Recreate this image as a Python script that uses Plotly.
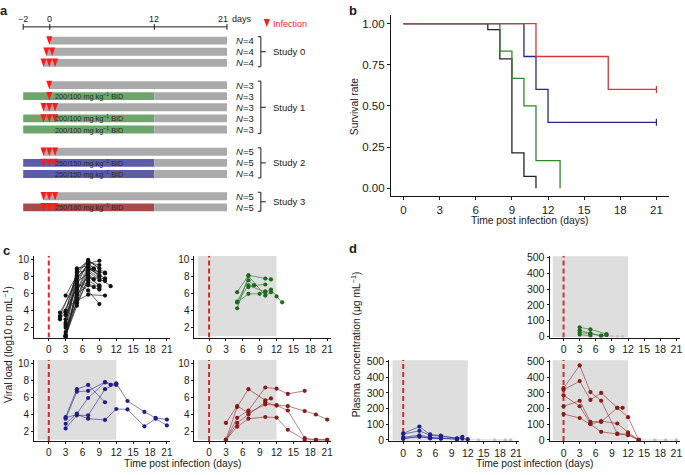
import numpy as np
import plotly.graph_objects as go

W, H = 685, 475
FONT = "Liberation Sans, Arial, Helvetica, sans-serif"
INK = "#1a1a1a"

# ---------------- panel a : study design ----------------
a_tick_days = [-2, 0, 12, 21]
a_tick_text = ["\u22122", "0", "12", "21"]
a_study = [0, 0, 0, 1, 1, 1, 1, 1, 2, 2, 2, 3, 3]
a_n = [4, 4, 4, 3, 3, 3, 3, 3, 5, 5, 4, 5, 5]
a_infections = [1, 2, 3, 1, 1, 3, 3, 0, 3, 3, 0, 3, 3]
a_treated = [0, 0, 0, 0, 1, 0, 1, 1, 0, 1, 1, 0, 1]
a_dose = ["", "200/100", "250/150", "250/180"]
a_treat_days = (-2, 12)
a_last_day = 21

# ---------------- panel b : survival ----------------
b_days_ctrl = [0, 7, 8, 9, 10, 11]
b_surv_ctrl = [1.00, 0.964, 0.786, 0.214, 0.071, 0.00]
b_days_low = [0, 8, 9, 10, 11, 13]
b_surv_low = [1.00, 0.833, 0.667, 0.50, 0.167, 0.00]
b_days_mid = [0, 10, 11, 12, 21]
b_surv_mid = [1.00, 0.80, 0.60, 0.40, 0.40]
b_days_high = [0, 11, 17, 21]
b_surv_high = [1.00, 0.80, 0.60, 0.60]

# ---------------- panel c : viral load (log10 cp/mL) ----------------
c_ctrl = [
    ([2, 5, 7, 9], [3.8, 7.5, 9.6, 9.9]),
    ([2, 5, 7, 9], [3.2, 6.5, 9.2, 8.6]),
    ([2, 5, 7, 10], [3.0, 5.5, 8.9, 8.4]),
    ([3, 5, 7, 9], [5.8, 8.2, 10.0, 9.0]),
    ([3, 5, 7, 8], [3.0, 7.0, 9.8, 8.9]),
    ([3, 5, 7, 9], [1.0, 6.2, 9.0, 8.2]),
    ([3, 5, 7, 9, 10], [2.0, 5.0, 8.6, 7.6, 7.5]),
    ([3, 5, 7, 10], [1.0, 4.6, 7.9, 7.8]),
    ([3, 5, 7, 8], [2.6, 7.8, 9.5, 9.0]),
    ([3, 5, 7, 10], [1.0, 8.8, 9.9, 8.5]),
    ([3, 5, 7, 9], [2.4, 9.0, 9.3, 8.0]),
    ([3, 5, 7, 9], [1.5, 5.8, 8.2, 6.9]),
    ([3, 5, 7, 8], [1.0, 6.8, 7.3, 6.8]),
    ([3, 5, 7, 9], [3.5, 7.2, 6.4, 4.8]),
    ([3, 5, 7, 10], [1.0, 5.2, 5.9, 5.8]),
    ([3, 5, 7, 11], [4.0, 8.5, 8.8, 6.9]),
    ([3, 5, 7, 9], [1.0, 6.0, 7.0, 6.5]),
    ([2, 5, 7, 10], [3.4, 8.0, 9.1, 7.8]),
    ([3, 5, 7, 8], [2.2, 7.4, 8.4, 7.7]),
    ([3, 5, 7, 9], [1.0, 6.6, 8.0, 7.0]),
    ([3, 5, 7, 9], [3.8, 8.6, 9.7, 9.4]),
    ([3, 5, 7, 9], [1.2, 4.9, 7.6, 6.7]),
]
c_low = [
    ([5, 7, 10, 11], [6.2, 8.2, 7.8, 7.7]),
    ([5, 7, 8, 10], [5.1, 7.6, 7.0, 7.1]),
    ([5, 7, 10, 11, 12, 13], [5.0, 7.0, 6.2, 6.5, 5.7, 5.0]),
    ([5, 7, 10, 11], [4.3, 8.1, 5.8, 6.2]),
    ([5, 7, 9, 10], [5.0, 6.0, 6.0, 6.3]),
    ([7, 8], [6.8, 7.0]),
]
c_mid = [
    ([3, 5, 7, 10], [3.7, 7.0, 7.5, 5.45]),
    ([3, 5, 7, 10, 12], [3.5, 6.7, 6.8, 7.85, 7.5]),
    ([3, 5, 7, 10, 11, 12, 14, 17, 19, 21], [2.9, 4.1, 5.95, 7.8, 7.5, 7.7, 5.6, 4.3, 3.6, 3.4]),
    ([3, 5, 7, 10, 12], [2.35, 3.9, 3.9, 7.0, 7.6]),
    ([3, 5, 7, 10, 12, 14, 17, 19, 21], [3.6, 4.0, 3.5, 3.35, 4.65, 4.6, 2.6, 3.5, 2.7]),
]
c_high = [
    ([3, 5, 7, 10, 12, 14, 17, 19, 21], [3.0, 5.0, 4.2, 5.2, 5.1, 5.0, 4.4, 4.0, 3.4]),
    ([3, 5, 7, 10, 11], [1.0, 4.9, 7.0, 5.67, 5.9]),
    ([3, 5, 7, 10, 12, 14, 17], [1.0, 3.6, 4.47, 7.2, 7.06, 6.44, 6.8]),
    ([3, 5, 7, 10, 12, 14, 17, 19, 21], [1.0, 3.0, 4.0, 5.44, 5.06, 4.47, 1.2, 1.0, 1.0]),
    ([3, 5, 7, 10, 12, 14, 17, 19, 21], [1.0, 2.55, 3.5, 3.7, 3.63, 2.19, 1.0, 1.0, 1.0]),
]

# ---------------- panel d : plasma concentration (ug/mL) ----------------
d_low = [
    ([3, 5, 8], [58, 45, 15]),
    ([3, 5, 7, 8], [40, 20, 5, 8]),
    ([3, 5, 7], [25, 18, 3]),
    ([3, 5], [12, 5]),
]
d_low_loq = ([9, 10, 11], [0, 0, 0])
d_mid = [
    ([0, 3, 5, 7, 10, 11], [42, 85, 35, 28, 10, 20]),
    ([0, 3, 5, 7, 10, 11, 12], [38, 58, 30, 22, 8, 8, 5]),
    ([0, 3, 5, 7, 10], [17, 30, 17, 10, 6]),
    ([0, 3, 5, 7], [8, 23, 10, 8]),
    ([0, 3, 5, 7, 10], [10, 20, 12, 12, 5]),
]
d_mid_loq = ([12, 14, 17, 19, 20], [3, 0, 0, 0, 0])
d_high = [
    ([0, 3, 5, 7, 10, 12, 14], [330, 475, 305, 250, 40, 30, 0]),
    ([0, 3, 5, 7, 10, 12, 14], [320, 375, 255, 300, 205, 145, 0]),
    ([0, 3, 5, 7, 10, 11], [285, 215, 105, 115, 205, 205]),
    ([0, 3, 5, 7, 10, 12, 14], [215, 250, 115, 120, 105, 48, 0]),
    ([0, 3, 5, 7, 10, 12, 14], [165, 140, 100, 52, 38, 38, 0]),
]
d_high_loq = ([14, 17, 19, 21], [0, 0, 0, 0])

# ---------------- styling ----------------
COL_CTRL, COL_LOW, COL_MID, COL_HIGH = "#222222", "#2a8a2a", "#26268f", "#d93535"
C_DOT = {"ctrl": "#111111", "low": "#1d6b1d", "mid": "#1f1f88", "high": "#8a1a1a"}
C_LINE = {"ctrl": "rgba(30,30,30,0.85)", "low": "rgba(40,120,40,0.8)",
          "mid": "rgba(40,40,150,0.75)", "high": "rgba(150,40,40,0.75)"}
A_TREAT_COL = ["", "#6da66d", "#5c5ca8", "#a84a4a"]
A_GRAY = "#aaaaaa"
A_TICK_POS = [23.3, 50, 155, 228]   # schematic (non-linear) positions of the day ticks


def pdx(x0, x1):
    return [x0 / W, x1 / W]


def pdy(top, bottom):
    return [1 - bottom / H, 1 - top / H]


def sx(day):
    return float(np.interp(day, a_tick_days, A_TICK_POS))


def row_y(slot):
    return 37.3 + slot * 11.33


shapes, annotations, traces = [], [], []


def ann(text, x, y, size, xref="paper", yref="paper", xanchor="center", color=INK,
        angle=0, bold=False):
    if xref == "paper":
        x = x / W
    if yref == "paper":
        y = 1 - y / H
    if bold:
        text = "<b>" + text + "</b>"
    annotations.append(dict(text=text, x=x, y=y, xref=xref, yref=yref, xanchor=xanchor,
                            yanchor="middle", showarrow=False, textangle=angle,
                            font=dict(family=FONT, size=size, color=color)))


# ---- panel a drawing ----
def a_rect(x0, x1, y, col):
    shapes.append(dict(type="rect", xref="x", yref="y", x0=x0, x1=x1, y0=y - 4, y1=y + 4,
                       fillcolor=col, line=dict(width=0), layer="below"))


def a_tri(cx, cy):
    shapes.append(dict(type="path", xref="x", yref="y",
                       path=f"M {cx-3},{cy-4.3} L {cx+3},{cy-4.3} L {cx},{cy+4.3} Z",
                       fillcolor="#ff1a1a", line=dict(width=0)))


# timeline
shapes.append(dict(type="line", xref="x", yref="y", x0=sx(-2), x1=sx(a_last_day),
                   y0=23.3, y1=23.3, line=dict(color=INK, width=1)))
for d, t in zip(a_tick_days, a_tick_text):
    shapes.append(dict(type="line", xref="x", yref="y", x0=sx(d), x1=sx(d), y0=20.3, y1=26.3,
                       line=dict(color=INK, width=1)))
    ann(t, sx(d) - (4 if d == 21 else 0), 15, 9, xref="x", yref="y")
ann("days", sx(a_last_day) + 3, 15, 9, xref="x", yref="y", xanchor="left")
a_tri(268, 19.5)
ann("Infection", 272.5, 20, 9, xref="x", yref="y", xanchor="left", color="#ff1a1a")

study_rows = {}
for i in range(len(a_study)):
    s = a_study[i]
    slot = i + s
    y = row_y(slot)
    study_rows.setdefault(s, []).append(y)
    n_inf = a_infections[i]
    centers = [sx(0) - 0.5 + (k - (n_inf - 1) / 2) * 5.8 for k in range(n_inf)]
    if a_treated[i]:
        a_rect(sx(a_treat_days[0]), sx(a_treat_days[1]), y, A_TREAT_COL[s])
        a_rect(sx(a_treat_days[1]), sx(a_last_day), y, A_GRAY)
        ann(f"{a_dose[s]} mg kg<sup>\u22121</sup> BID",
            (sx(a_treat_days[0]) + sx(a_treat_days[1])) / 2, y, 7.3, xref="x", yref="y",
            color="#2a2a2a")
    else:
        start = centers[0] if centers else sx(0)
        a_rect(start, sx(a_last_day), y, A_GRAY)
    for c in centers:
        a_tri(c, y)
    ann(f"<i>N</i>={a_n[i]}", 235, y, 9.5, xref="x", yref="y", xanchor="left")

for s, ys in study_rows.items():
    top, bot = ys[0] - 4, ys[-1] + 4
    mid = (top + bot) / 2
    shapes.append(dict(type="path", xref="x", yref="y",
                       path=f"M 259,{top} L 262,{top} L 262,{bot} L 259,{bot}",
                       line=dict(color=INK, width=1)))
    shapes.append(dict(type="line", xref="x", yref="y", x0=262, x1=267, y0=mid, y1=mid,
                       line=dict(color=INK, width=1)))
    ann(f"Study {s}", 272, mid, 9.5, xref="x", yref="y", xanchor="left")

# ---- panel b ----
for xs, ys, col in [(b_days_ctrl, b_surv_ctrl, COL_CTRL), (b_days_low, b_surv_low, COL_LOW),
                    (b_days_mid, b_surv_mid, COL_MID), (b_days_high, b_surv_high, COL_HIGH)]:
    traces.append(go.Scatter(x=xs, y=ys, mode="lines", xaxis="x2", yaxis="y2",
                             line=dict(shape="hv", color=col, width=1.3)))
for xs, ys, col in [(b_days_mid, b_surv_mid, COL_MID), (b_days_high, b_surv_high, COL_HIGH)]:
    traces.append(go.Scatter(x=[xs[-1]], y=[ys[-1]], mode="markers", xaxis="x2", yaxis="y2",
                             marker=dict(symbol="line-ns-open", size=5, color=col,
                                         line=dict(color=col, width=1.2))))


# ---- panels c, d ----
def add_group(series, key, xa, ya):
    for xs, ys in series:
        traces.append(go.Scatter(x=xs, y=ys, mode="lines+markers", xaxis=xa, yaxis=ya,
                                 line=dict(color=C_LINE[key], width=0.8),
                                 marker=dict(color=C_DOT[key], size=4.2)))


def add_loq(pts, xa, ya):
    traces.append(go.Scatter(x=pts[0], y=pts[1], mode="lines+markers", xaxis=xa, yaxis=ya,
                             line=dict(color="#cfcfcf", width=0.8),
                             marker=dict(color="#c4c4c4", size=3.5)))


add_group(c_ctrl, "ctrl", "x3", "y3")
add_group(c_low, "low", "x4", "y4")
add_group(c_mid, "mid", "x5", "y5")
add_group(c_high, "high", "x6", "y6")
add_loq(d_low_loq, "x7", "y7")
add_group(d_low, "low", "x7", "y7")
add_loq(d_mid_loq, "x8", "y8")
add_group(d_mid, "mid", "x8", "y8")
add_loq(d_high_loq, "x9", "y9")
add_group(d_high, "high", "x9", "y9")

C_YR = [0.85, 10.5]
D_YR = [-7, 512]
XR = [-2.6, 21.6]
for n, yr, shade in [(3, C_YR, False), (4, C_YR, True), (5, C_YR, True), (6, C_YR, True),
                     (7, D_YR, True), (8, D_YR, True), (9, D_YR, True)]:
    if shade:
        y0 = 1.0 if yr is C_YR else -3
        y1 = 10.45 if yr is C_YR else 508
        shapes.append(dict(type="rect", xref=f"x{n}", yref=f"y{n}", x0=-2, x1=12, y0=y0, y1=y1,
                           fillcolor="#dedede", line=dict(width=0), layer="below"))
    shapes.append(dict(type="line", xref=f"x{n}", yref=f"y{n}", x0=0, x1=0, y0=yr[0], y1=yr[1],
                       line=dict(color="#d42a2a", width=2, dash="5px,3px"), layer="below"))

fig = go.Figure(traces)


def axis(domain, rng, tickvals, anchor, size, ticktext=None, ticklen=2):
    d = dict(domain=domain, range=rng, tickvals=tickvals, anchor=anchor, showline=True,
             linecolor=INK, linewidth=1, ticks="outside", ticklen=ticklen, tickcolor=INK,
             tickwidth=1, showgrid=False, zeroline=False, fixedrange=True,
             tickfont=dict(family=FONT, size=size, color=INK))
    if ticktext is not None:
        d["ticktext"] = ticktext
    return d


days_ticks = list(range(0, 22, 3))
TOP, BOT = (256.5, 340), (362.5, 445.5)
C_L, C_R = (34.3, 171), (195.3, 332)
D_L, D_R = (391, 521.6), (552, 682.6)

layout = dict(
    width=W, height=H, margin=dict(l=0, r=0, t=0, b=0), autosize=False,
    paper_bgcolor="white", plot_bgcolor="white", showlegend=False,
    font=dict(family=FONT, color=INK),
    xaxis=dict(domain=pdx(0, 330), range=[0, 330], visible=False, fixedrange=True),
    yaxis=dict(domain=pdy(0, 240), range=[240, 0], visible=False, fixedrange=True),
    xaxis2=axis(pdx(392.6, 672), [-1.05, 22.05], days_ticks, "y2", 11.5, ticklen=3),
    yaxis2=axis(pdy(11.6, 196.1), [-0.05, 1.05], [0, 0.25, 0.5, 0.75, 1.0], "x2", 11.5,
                ticktext=["0.00", "0.25", "0.50", "0.75", "1.00"], ticklen=3),
    xaxis3=axis(pdx(*C_L), XR, days_ticks, "y3", 10),
    yaxis3=axis(pdy(*TOP), C_YR, [2, 4, 6, 8, 10], "x3", 10),
    xaxis4=axis(pdx(*C_R), XR, days_ticks, "y4", 10),
    yaxis4=axis(pdy(*TOP), C_YR, [2, 4, 6, 8, 10], "x4", 10),
    xaxis5=axis(pdx(*C_L), XR, days_ticks, "y5", 10),
    yaxis5=axis(pdy(*BOT), C_YR, [2, 4, 6, 8, 10], "x5", 10),
    xaxis6=axis(pdx(*C_R), XR, days_ticks, "y6", 10),
    yaxis6=axis(pdy(*BOT), C_YR, [2, 4, 6, 8, 10], "x6", 10),
    xaxis7=axis(pdx(*D_R), XR, days_ticks, "y7", 10.5),
    yaxis7=axis(pdy(*TOP), D_YR, [0, 100, 200, 300, 400, 500], "x7", 10.5),
    xaxis8=axis(pdx(*D_L), XR, days_ticks, "y8", 10.5),
    yaxis8=axis(pdy(*BOT), D_YR, [0, 100, 200, 300, 400, 500], "x8", 10.5),
    xaxis9=axis(pdx(*D_R), XR, days_ticks, "y9", 10.5),
    yaxis9=axis(pdy(*BOT), D_YR, [0, 100, 200, 300, 400, 500], "x9", 10.5),
)

# titles and panel letters
ann("Time post infection (days)", 532, 220.7, 10.3)
ann("Survival rate", 355.7, 104, 10.3, angle=-90)
ann("Time post infection (days)", 183.5, 468, 10.3)
ann("Viral load (log10 cp mL<sup>\u22121</sup>)", 8, 346.5, 10.3, angle=-90)
ann("Time post infection (days)", 537, 468, 10.3)
ann("Plasma concentration (\u03bcg mL<sup>\u22121</sup>)", 357, 346.5, 10.3, angle=-90)
ann("a", 4.5, 7, 13, bold=True)
ann("b", 355, 7, 13, bold=True)
ann("c", 7, 251, 13, bold=True)
ann("d", 355, 249, 13, bold=True)

layout["shapes"] = shapes
layout["annotations"] = annotations
fig.update_layout(**layout)
fig.write_html("out.html", config={"displayModeBar": False, "staticPlot": True},
               post_script="document.body.style.margin='0';document.body.style.overflow='hidden';")
